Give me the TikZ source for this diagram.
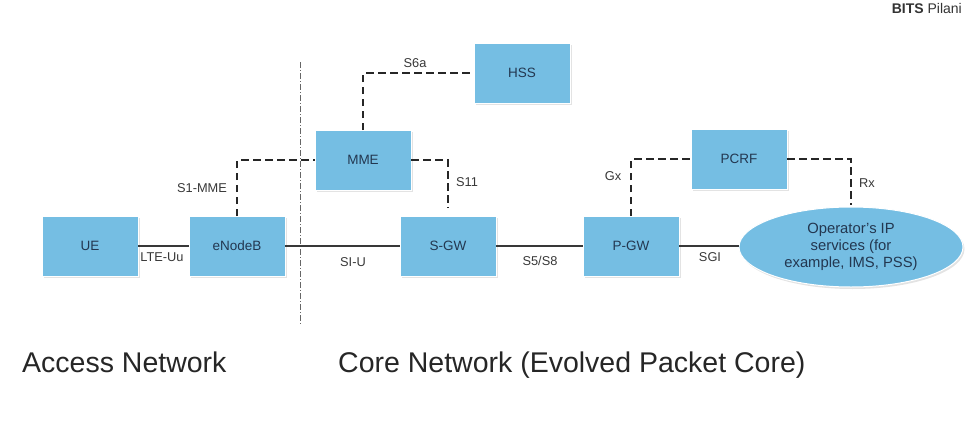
\documentclass[tikz,border=0pt]{standalone}
\usepackage{fontspec}
\setmainfont{Liberation Sans}
\usetikzlibrary{shapes.geometric,shadows}
\definecolor{boxblue}{RGB}{117,190,227}
\definecolor{boxtext}{RGB}{35,55,80}
\definecolor{lbl}{RGB}{55,55,55}
\begin{document}
\begin{tikzpicture}[x=1pt,y=-1pt,
  netbox/.style={rectangle, fill=boxblue, draw=white, line width=1pt,
    minimum width=96pt, minimum height=60pt, inner sep=0pt, outer sep=0pt,
    font=\fontsize{13.5}{16}\selectfont, text=boxtext,
    drop shadow={shadow xshift=1.5pt,shadow yshift=-2pt,fill=black!22}},
  opsell/.style={ellipse, fill=boxblue, draw=white, line width=1pt,
    minimum width=224pt, minimum height=80pt, inner sep=0pt, outer sep=0pt, align=center,
    font=\fontsize{14.8}{16.8}\selectfont, text=boxtext,
    drop shadow={shadow xshift=1.5pt,shadow yshift=-2pt,fill=black!22}},
  iface/.style={line width=2pt, draw=black!78},
  ctrl/.style={line width=2pt, dash pattern=on 7.5pt off 4.5pt, draw=black!85},
  divider/.style={line width=1pt, draw=black!60, dash pattern=on 6pt off 2pt on 1pt off 2pt},
  lab/.style={font=\fontsize{12.8}{14}\selectfont, text=lbl, inner sep=0pt},
  big/.style={font=\fontsize{28.5}{32}\selectfont, text=black!85, inner sep=0pt, anchor=base west}]
\useasboundingbox (0,0) rectangle (968,431);

% nodes
\node[netbox] (ue)   at (90,246)  {UE};
\node[netbox] (enb)  at (237,246) {eNodeB};
\node[netbox] (mme)  at (363,160) {MME};
\node[netbox] (hss)  at (522,73)  {HSS};
\node[netbox] (sgw)  at (448,246) {S-GW};
\node[netbox] (pgw)  at (631,246) {P-GW};
\node[netbox] (pcrf) at (739,159) {PCRF};
\node[opsell] (ops)  at (851,247) {Operator’s IP\\services (for\\example, IMS, PSS)};

% divider
\coordinate (divtop) at (300.5,62);
\coordinate (divbot) at (300.5,324);
\draw[divider] (divtop) -- (divbot);

% user-plane interfaces
\draw[iface] (ue) -- (enb);
\draw[iface] (enb) -- (sgw);
\draw[iface] (sgw) -- (pgw);
\draw[iface] (pgw) -- (pgw -| ops.west);

% control interfaces
\draw[ctrl] (enb.north) |- (mme.west);
\draw[ctrl, shorten >=8pt] (mme.east) -| (sgw.north);
\draw[ctrl] (mme.north) |- (hss.west);
\draw[ctrl] (pgw.north) |- (pcrf.west);
\draw[ctrl, shorten >=2pt] (pcrf.east) -| (ops.north);

% interface labels
\node[lab] (lteuu) at (162,257) {LTE-Uu};
\node[lab] (siu)   at (353,262) {SI-U};
\node[lab] (s5s8)  at (540,261) {S5/S8};
\node[lab] (sgi)   at (710,257) {SGI};
\node[lab] (s1mme) at (202,188) {S1-MME};
\node[lab] (s11)   at (467,182) {S11};
\node[lab] (s6a)   at (415,63)  {S6a};
\node[lab] (gx)    at (613,176) {Gx};
\node[lab] (rx)    at (867,183) {Rx};

% titles
\node[big] (access) at (22,372) {Access Network};
\node[big] (core)   at (338,372) {Core Network (Evolved Packet Core)};
\node[anchor=base east, inner sep=0pt, font=\fontsize{14}{16}\selectfont, text=black!80] (bits) at (962,13) {\textbf{BITS} Pilani};
\end{tikzpicture}
\end{document}
